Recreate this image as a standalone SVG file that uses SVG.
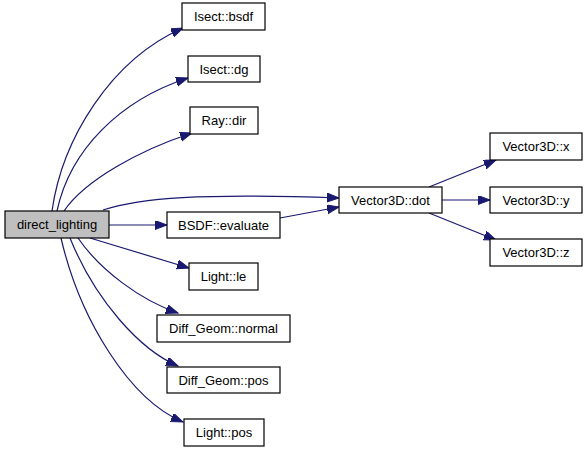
<svg xmlns="http://www.w3.org/2000/svg" width="587" height="453" viewBox="0 0 587 453">
<defs>
<marker id="arr" markerUnits="userSpaceOnUse" markerWidth="14" markerHeight="11" refX="12" refY="4.5" orient="auto">
<path d="M0,0 L12,4.5 L0,9 z" fill="#191970" stroke="#191970" stroke-width="1"/>
</marker>
</defs>
<style>
.n rect{fill:#fff;stroke:#000;stroke-width:1.2}
.n text{font-family:"Liberation Sans",Arial,sans-serif;font-size:13px;fill:#000;text-anchor:middle}
#edges path{fill:none;stroke:#191970;stroke-width:1.2;marker-end:url(#arr)}
</style>
<rect width="587" height="453" fill="#fff"/>
<g id="edges">
<path d="M52,211 C62,140 110,60 183,28"/>
<path d="M57,211 C70,150 120,100 188,78"/>
<path d="M64,211 C85,180 140,150 192,133"/>
<path d="M103,210 C140,198 200,193 339,198"/>
<path d="M109,225 L167,225"/>
<path d="M90,238 L189,268"/>
<path d="M78,238 C100,270 140,300 178,313"/>
<path d="M70,238 C95,300 140,350 178,366"/>
<path d="M61,238 C80,320 130,400 183,422"/>
<path d="M280,218 L339,207"/>
<path d="M429,187 L496,160"/>
<path d="M442,200 L490,200"/>
<path d="M429,213 L496,240"/>
</g>
<g id="direct_lighting" class="n"><rect x="5" y="211" width="104" height="27" style="fill:#bfbfbf"/><text x="57" y="229">direct_lighting</text></g>
<g id="isect_bsdf" class="n"><rect x="182" y="3" width="83" height="27"/><text x="223.5" y="21">Isect::bsdf</text></g>
<g id="isect_dg" class="n"><rect x="188" y="56" width="72" height="26"/><text x="224" y="73.5">Isect::dg</text></g>
<g id="ray_dir" class="n"><rect x="190" y="107" width="68" height="27"/><text x="224" y="125">Ray::dir</text></g>
<g id="bsdf_evaluate" class="n"><rect x="167" y="212" width="113" height="26"/><text x="223.5" y="229.5">BSDF::evaluate</text></g>
<g id="light_le" class="n"><rect x="189" y="263" width="69" height="27"/><text x="223.5" y="281">Light::le</text></g>
<g id="diff_geom_normal" class="n"><rect x="157" y="315" width="133" height="27"/><text x="223.5" y="333">Diff_Geom::normal</text></g>
<g id="diff_geom_pos" class="n"><rect x="167" y="367" width="113" height="26"/><text x="223.5" y="384.5">Diff_Geom::pos</text></g>
<g id="light_pos" class="n"><rect x="184" y="419" width="80" height="27"/><text x="224" y="437">Light::pos</text></g>
<g id="vector3d_dot" class="n"><rect x="339" y="187" width="103" height="26"/><text x="390.5" y="204.5">Vector3D::dot</text></g>
<g id="vector3d_x" class="n"><rect x="490" y="133" width="92" height="27"/><text x="536" y="151">Vector3D::x</text></g>
<g id="vector3d_y" class="n"><rect x="490" y="187" width="92" height="26"/><text x="536" y="204.5">Vector3D::y</text></g>
<g id="vector3d_z" class="n"><rect x="490" y="239" width="92" height="27"/><text x="536" y="257">Vector3D::z</text></g>
</svg>
